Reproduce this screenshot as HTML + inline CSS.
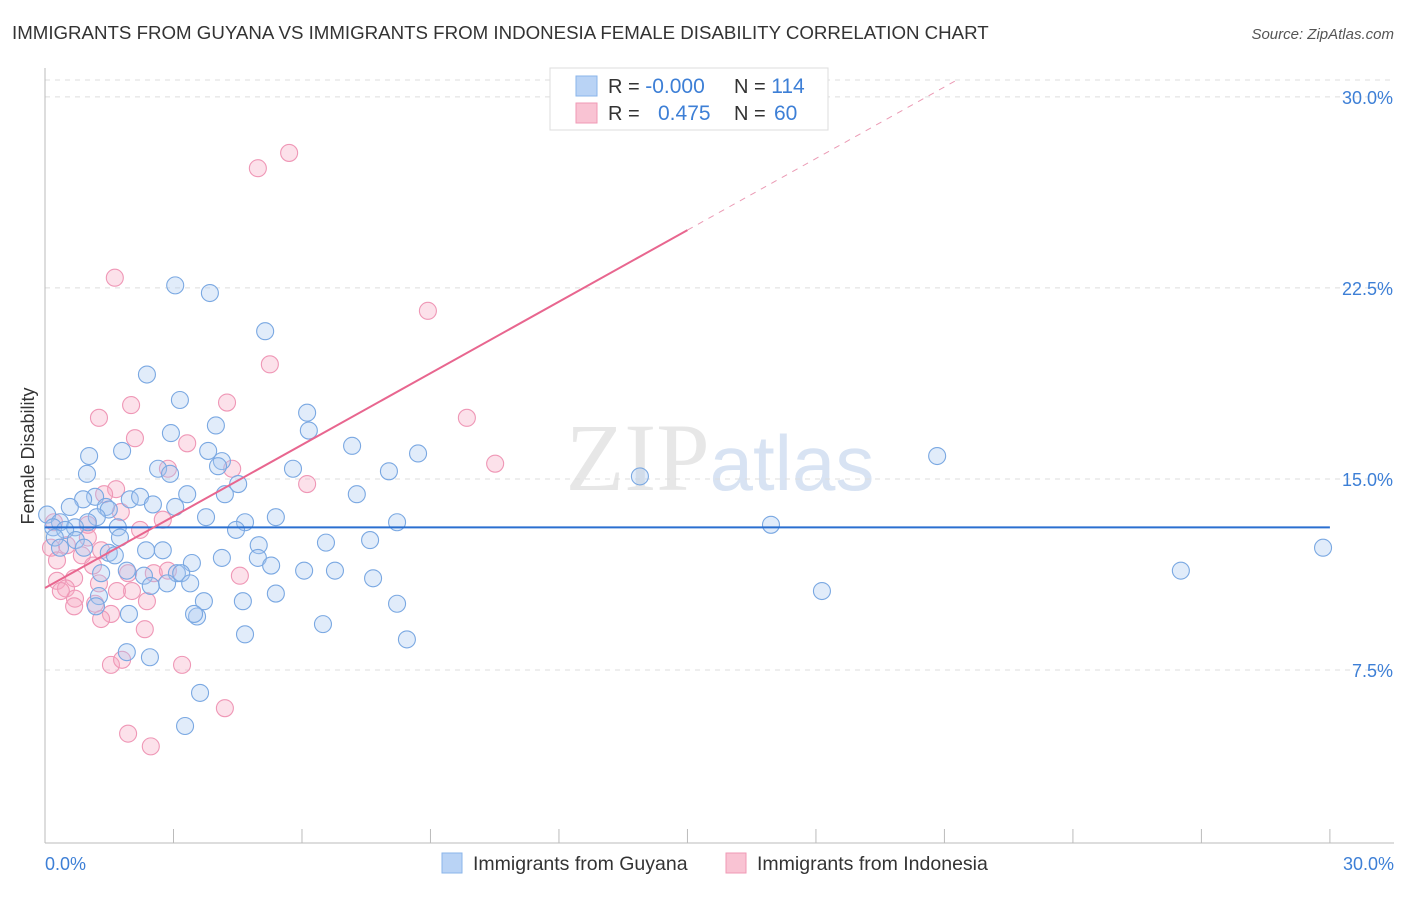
<!DOCTYPE html>
<html><head><meta charset="utf-8"><style>
body{margin:0;background:#fff;font-family:"Liberation Sans",sans-serif;}
</style></head><body>
<svg id="chart" width="1406" height="892" xmlns="http://www.w3.org/2000/svg" font-family="Liberation Sans, sans-serif">
<text x="12" y="39" font-size="18.7" fill="#333">IMMIGRANTS FROM GUYANA VS IMMIGRANTS FROM INDONESIA FEMALE DISABILITY CORRELATION CHART</text>
<text x="1394" y="39" font-size="15" fill="#555" font-style="italic" text-anchor="end">Source: ZipAtlas.com</text>
<text x="720" y="490" font-size="96" fill="#ddd" text-anchor="middle" font-family="Liberation Serif, serif" opacity="0.7">ZIP<tspan fill="#c8d8ee" font-family="Liberation Sans, sans-serif" font-size="78">atlas</tspan></text>
<text transform="translate(34,456) rotate(-90)" font-size="18" fill="#333" text-anchor="middle">Female Disability</text>
<g id="grid"></g><g id="axes"></g><g id="marks"></g>
<g>
<rect x="550" y="68" width="278" height="62" fill="#fff" stroke="#ddd"/>
<rect x="576" y="76" width="21" height="20" fill="#b9d3f5" stroke="#8ab4ea"/>
<rect x="576" y="103" width="21" height="20" fill="#f9c3d3" stroke="#f09ab6"/>
<text x="608" y="93" font-size="20" fill="#333">R = <tspan fill="#3d7fd6" font-size="21">-0.000</tspan></text>
<text x="734" y="93" font-size="20" fill="#333">N = <tspan fill="#3d7fd6" font-size="21">114</tspan></text>
<text x="608" y="120" font-size="20" fill="#333">R = <tspan fill="#3d7fd6" x="658" font-size="21">0.475</tspan></text>
<text x="734" y="120" font-size="20" fill="#333">N = <tspan fill="#3d7fd6" x="774" font-size="21">60</tspan></text>
</g>
<g>
<rect x="442" y="853" width="20" height="20" fill="#b9d3f5" stroke="#8ab4ea"/>
<text x="473" y="870" font-size="19.5" fill="#333">Immigrants from Guyana</text>
<rect x="726" y="853" width="20" height="20" fill="#f9c3d3" stroke="#f09ab6"/>
<text x="757" y="870" font-size="19.5" fill="#333">Immigrants from Indonesia</text>
</g>
</svg>
<script>
const yTicks=[7.5,15,22.5,30];
const xTickLabels=["0.0%","30.0%"];
const blueX=[3.04,3.85,5.14,2.38,3.15,6.12,3.99,6.16,2.94,7.17,3.81,1.80,1.03,8.71,20.83,4.13,2.64,4.04,2.92,0.98,5.79,8.03,13.89,4.51,3.32,4.2,7.28,1.17,1.98,2.22,0.89,1.42,1.49,2.52,0.58,3.04,3.76,5.39,1.21,1.0,0.05,0.35,4.67,4.46,8.22,16.95,1.7,0.70,0.19,0.47,1.75,0.23,0.72,7.59,6.56,4.99,2.36,2.75,1.49,0.35,0.91,1.63,4.97,4.13,3.43,5.28,6.05,6.77,1.91,1.31,3.08,2.31,3.18,7.66,26.52,29.84,2.85,2.47,18.14,3.39,5.39,1.26,3.71,4.62,8.22,1.96,1.19,3.55,3.48,6.49,4.67,8.45,1.91,2.45,3.62,3.27];
const blueY=[22.6,22.3,20.8,19.1,18.1,17.6,17.1,16.9,16.8,16.3,16.1,16.1,15.9,16.0,15.9,15.7,15.4,15.5,15.2,15.2,15.4,15.3,15.1,14.8,14.4,14.4,14.4,14.3,14.2,14.3,14.2,13.9,13.8,14.0,13.9,13.9,13.5,13.5,13.5,13.3,13.6,13.3,13.3,13.0,13.3,13.2,13.1,13.1,13.1,13.0,12.7,12.7,12.6,12.6,12.5,12.4,12.2,12.2,12.1,12.3,12.3,12.0,11.9,11.9,11.7,11.6,11.4,11.4,11.4,11.3,11.3,11.2,11.3,11.1,11.4,12.3,10.9,10.8,10.6,10.9,10.5,10.4,10.2,10.2,10.1,9.7,10.0,9.6,9.7,9.3,8.9,8.7,8.2,8.0,6.6,5.3];
const pinkX=[5.70,4.97,1.63,8.94,5.25,2.01,4.25,1.26,9.85,2.1,3.32,10.51,2.87,4.37,6.12,1.66,1.38,1.77,2.75,1.0,0.21,2.22,1.0,0.51,0.14,1.31,0.86,0.28,1.12,1.94,2.54,2.87,0.68,4.55,0.28,1.26,0.49,2.03,1.68,0.70,0.37,2.38,1.17,0.68,1.54,1.31,2.33,1.54,1.80,3.20,4.2,1.94,2.47];
const pinkY=[27.8,27.2,22.9,21.6,19.5,17.9,18.0,17.4,17.4,16.6,16.4,15.6,15.4,15.4,14.8,14.6,14.4,13.7,13.4,13.2,13.3,13.0,12.7,12.4,12.3,12.2,12.0,11.8,11.6,11.3,11.3,11.4,11.1,11.2,11.0,10.9,10.7,10.6,10.6,10.3,10.6,10.2,10.1,10.0,9.7,9.5,9.1,7.7,7.9,7.7,6.0,5.0,4.5];
const blueTrend=[13.1,13.1];
const pinkTrend=[10.72,24.77];
const NS="http://www.w3.org/2000/svg";
const X=v=>45+v*42.83, Y=v=>861-v*25.47;
function mk(t,a,p){const e=document.createElementNS(NS,t);for(const k in a)e.setAttribute(k,a[k]);p.appendChild(e);return e;}
const gridG=document.getElementById('grid'),axesG=document.getElementById('axes'),marksG=document.getElementById('marks');
const topLine=mk('line',{x1:45,x2:1394,y1:80,y2:80,stroke:'#ddd','stroke-dasharray':'5,5'},gridG);


yTicks.forEach(t=>{
 const l=mk('line',{x1:45,x2:1394,y1:Y(t),y2:Y(t),stroke:'#ddd','stroke-dasharray':'5,5'},gridG);
 
 
 const tx=mk('text',{x:1393,y:Y(t)+7,'font-size':18,fill:'#3d7fd6','text-anchor':'end'},gridG);
 tx.textContent=t.toFixed(1)+'%';
 
 
});
const ya=mk('line',{x1:45,x2:45,y1:68,y2:843,stroke:'#bbb'},axesG);


const xa=mk('line',{x1:45,x2:1394,y1:843,y2:843,stroke:'#bbb'},axesG);


for(let i=0;i<=10;i++){
 const t=mk('line',{x1:X(i*3),x2:X(i*3),y1:829,y2:843,stroke:'#bbb'},axesG);
 
 
}
[[0,'start',45],[1,'end',1394]].forEach(([i,a,x])=>{
 const t=mk('text',{x:x,y:870,'font-size':18,fill:'#3d7fd6','text-anchor':a},axesG);
 t.textContent=xTickLabels[i];
 
 
});
function pts(xs,ys,fill,stroke,name){xs.forEach((x,i)=>{
 const c=mk('circle',{cx:X(x),cy:Y(ys[i]),r:8.5,fill:fill,'fill-opacity':0.35,stroke:stroke,'stroke-width':1.1},marksG);
 
 
});}
pts(pinkX,pinkY,'#f7a8c2','#ef97b6','indonesia-point');
pts(blueX,blueY,'#a8c8f2','#7aa8e2','guyana-point');
const bl=mk('line',{x1:X(0),x2:X(30),y1:Y(blueTrend[0]),y2:Y(blueTrend[1]),stroke:'#2a6fd0','stroke-width':2},marksG);


const slope=(pinkTrend[1]-pinkTrend[0])/15;
const pl=mk('line',{x1:X(0),x2:X(15),y1:Y(pinkTrend[0]),y2:Y(pinkTrend[1]),stroke:'#e8668f','stroke-width':2},marksG);


const xe=21.3;
const pd=mk('line',{x1:X(15),x2:X(xe),y1:Y(pinkTrend[1]),y2:Y(pinkTrend[0]+slope*xe),stroke:'#eb9ab4','stroke-width':1,'stroke-dasharray':'6,6'},marksG);


</script>
</body></html>
